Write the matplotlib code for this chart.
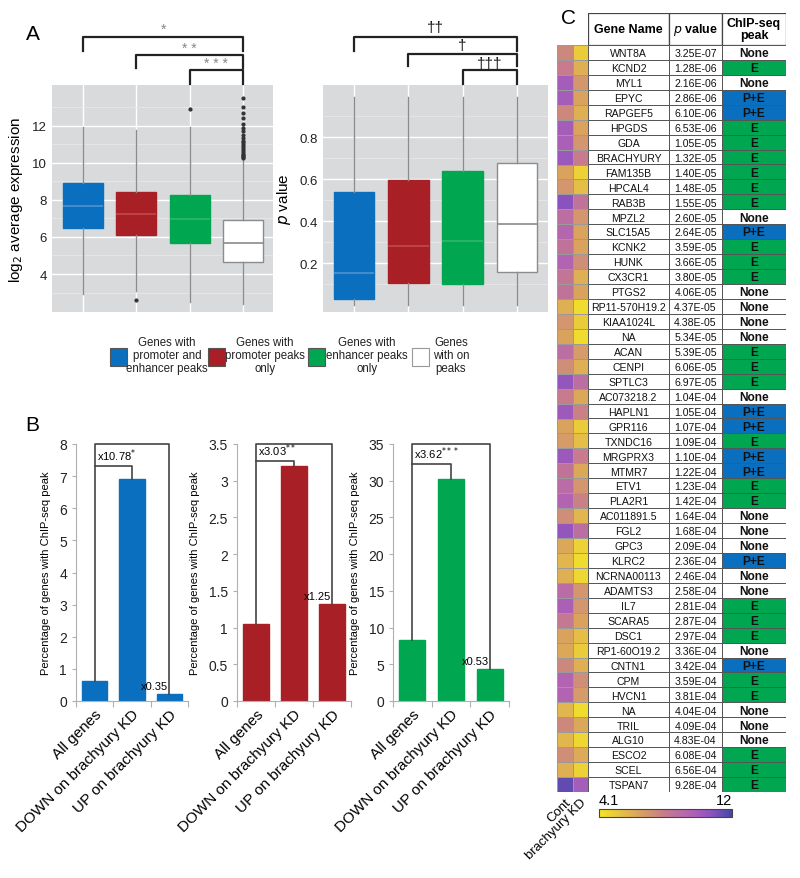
import numpy as np
import matplotlib
matplotlib.use("Agg")
import matplotlib.pyplot as plt
from matplotlib.patches import Rectangle
from matplotlib.colors import LinearSegmentedColormap

plt.rcParams['font.family'] = ['Liberation Sans', 'DejaVu Sans']

# ---------------- data ----------------
group_colors = ['#0a6fbe', '#a81f25', '#00a650', '#ffffff']
median_colors = ['#4f93d2', '#c04a4e', '#2fb86c', '#8a8a8a']
legend_labels = ['Genes with\npromoter and\nenhancer peaks', 'Genes with\npromoter peaks\nonly',
                 'Genes with\nenhancer peaks\nonly', 'Genes\nwith on\npeaks']

# Panel A left: log2 average expression box stats
expr_q1 = [6.49, 6.10, 5.68, 4.65]
expr_med = [7.67, 7.24, 6.95, 5.68]
expr_q3 = [8.92, 8.43, 8.27, 6.90]
expr_lo = [2.90, 3.10, 2.50, 2.40]
expr_hi = [11.95, 11.75, 11.95, 10.20]
expr_fliers = [[], [2.6], [12.9],
               [10.25, 10.3, 10.35, 10.4, 10.5, 10.6, 10.7, 10.8, 10.9, 11.0, 11.1, 11.2,
                11.35, 11.5, 11.7, 11.9, 12.1, 12.4, 12.7, 13.0, 13.5]]
# Panel A right: p value box stats
pv_q1 = [0.029, 0.105, 0.100, 0.157]
pv_med = [0.152, 0.281, 0.305, 0.386]
pv_q3 = [0.538, 0.595, 0.638, 0.676]
pv_lo = [0.0, 0.0, 0.0, 0.0]
pv_hi = [0.99, 0.99, 0.99, 0.99]

sig_expr = ['*', '* *', '* * *']
sig_pv = ['\u2020\u2020', '\u2020', '\u2020\u2020\u2020']

# Panel B
b_categories = ['All genes', 'DOWN on brachyury KD', 'UP on brachyury KD']
b_blue = [0.63, 6.9, 0.22]
b_red = [1.05, 3.2, 1.32]
b_green = [8.3, 30.3, 4.4]
b_ymax = [8, 3.5, 35]
b_yticks = [[0, 1, 2, 3, 4, 5, 6, 7, 8],
            [0, 0.5, 1, 1.5, 2, 2.5, 3, 3.5],
            [0, 5, 10, 15, 20, 25, 30, 35]]
b_yticklabels = [['0', '1', '2', '3', '4', '5', '6', '7', '8'],
                 ['0', '0.5', '1', '1.5', '2', '2.5', '3', '3.5'],
                 ['0', '5', '10', '15', '20', '25', '30', '35']]
b_fold_down = ['x10.78$^{*}$', 'x3.03$^{**}$', 'x3.62$^{***}$']
b_fold_up = ['x0.35', 'x1.25', 'x0.53']

# Panel C
genes = ['WNT8A', 'KCND2', 'MYL1', 'EPYC', 'RAPGEF5', 'HPGDS', 'GDA', 'BRACHYURY', 'FAM135B',
         'HPCAL4', 'RAB3B', 'MPZL2', 'SLC15A5', 'KCNK2', 'HUNK', 'CX3CR1', 'PTGS2',
         'RP11-570H19.2', 'KIAA1024L', 'NA', 'ACAN', 'CENPI', 'SPTLC3', 'AC073218.2', 'HAPLN1',
         'GPR116', 'TXNDC16', 'MRGPRX3', 'MTMR7', 'ETV1', 'PLA2R1', 'AC011891.5', 'FGL2', 'GPC3',
         'KLRC2', 'NCRNA00113', 'ADAMTS3', 'IL7', 'SCARA5', 'DSC1', 'RP1-60O19.2', 'CNTN1', 'CPM',
         'HVCN1', 'NA', 'TRIL', 'ALG10', 'ESCO2', 'SCEL', 'TSPAN7']
pvalues = ['3.25E-07', '1.28E-06', '2.16E-06', '2.86E-06', '6.10E-06', '6.53E-06', '1.05E-05',
           '1.32E-05', '1.40E-05', '1.48E-05', '1.55E-05', '2.60E-05', '2.64E-05', '3.59E-05',
           '3.66E-05', '3.80E-05', '4.06E-05', '4.37E-05', '4.38E-05', '5.34E-05', '5.39E-05',
           '6.06E-05', '6.97E-05', '1.04E-04', '1.05E-04', '1.07E-04', '1.09E-04', '1.10E-04',
           '1.22E-04', '1.23E-04', '1.42E-04', '1.64E-04', '1.68E-04', '2.09E-04', '2.36E-04',
           '2.46E-04', '2.58E-04', '2.81E-04', '2.87E-04', '2.97E-04', '3.36E-04', '3.42E-04',
           '3.59E-04', '3.81E-04', '4.04E-04', '4.09E-04', '4.83E-04', '6.08E-04', '6.56E-04',
           '9.28E-04']
peaks = ['None', 'E', 'None', 'P+E', 'P+E', 'E', 'E', 'E', 'E', 'E', 'E', 'None', 'P+E', 'E', 'E',
         'E', 'None', 'None', 'None', 'None', 'E', 'E', 'E', 'None', 'P+E', 'P+E', 'E', 'P+E',
         'P+E', 'E', 'E', 'None', 'None', 'None', 'P+E', 'None', 'None', 'E', 'E', 'E', 'None',
         'P+E', 'E', 'E', 'None', 'None', 'None', 'E', 'E', 'E']
expr_cont = [7.5, 8.0, 10.0, 10.0, 7.5, 10.0, 9.8, 10.3, 6.5, 7.0, 10.8, 8.8, 9.3, 8.5, 9.5, 8.3,
             8.5, 6.0, 7.0, 6.5, 8.8, 7.3, 10.5, 8.0, 10.2, 6.5, 6.8, 10.3, 8.5, 9.0, 9.5, 7.3,
             10.5, 6.3, 5.8, 6.0, 9.0, 9.8, 8.2, 6.5, 6.3, 7.5, 9.5, 9.5, 5.8, 7.5, 5.8, 7.3, 6.0,
             11.5]
expr_kd = [5.0, 6.0, 7.0, 6.5, 6.0, 6.5, 7.0, 8.0, 4.8, 5.5, 8.5, 7.0, 6.5, 6.5, 7.3, 6.0, 6.5,
           4.5, 5.0, 4.5, 6.8, 6.0, 8.8, 6.3, 7.8, 5.0, 5.5, 8.0, 6.3, 7.0, 7.8, 5.8, 8.8, 4.8,
           4.5, 4.6, 7.0, 7.0, 6.5, 5.5, 5.0, 6.0, 7.3, 6.8, 4.5, 6.3, 4.6, 6.2, 4.8, 10.0]
heat_cols = ['Cont', 'brachyury KD']
heat_range = [4.1, 12]
peak_colors = {'None': '#ffffff', 'E': '#00a650', 'P+E': '#0a6fbe'}

# ---------------- figure ----------------
W, H = 800, 879
fig = plt.figure(figsize=(W / 100, H / 100), dpi=100)


def ax_px(x0, y0, x1, y1):
    return fig.add_axes([x0 / W, 1 - y1 / H, (x1 - x0) / W, (y1 - y0) / H])


def style_gg(ax):
    ax.set_facecolor('#d9dadb')
    for s in ax.spines.values():
        s.set_visible(False)
    ax.tick_params(which='both', length=0, labelsize=9.5, colors='#222222')
    ax.grid(True, color='white', lw=1.0)
    ax.set_axisbelow(True)


def boxes(ax, q1, med, q3, lo, hi, fliers):
    stats = []
    for i in range(4):
        stats.append(dict(q1=q1[i], med=med[i], q3=q3[i], whislo=lo[i], whishi=hi[i],
                          fliers=fliers[i]))
    art = ax.bxp(stats, positions=[1, 2, 3, 4], widths=0.75, patch_artist=True, showcaps=False,
                 whiskerprops=dict(color='#8c8c8c', lw=1.0),
                 flierprops=dict(marker='o', markersize=2, markerfacecolor='#333333',
                                 markeredgecolor='#333333', lw=0))
    for i, b in enumerate(art['boxes']):
        b.set_facecolor(group_colors[i])
        b.set_edgecolor('#8c8c8c' if i == 3 else group_colors[i])
        b.set_linewidth(1.0)
        art['medians'][i].set_color(median_colors[i])
        art['medians'][i].set_linewidth(1.2)


def brackets(ax, x_pairs, ys, drops, labels, label_dy, lcolor, tcolor, fs):
    tr = ax.get_xaxis_transform()
    for (xa, xb), y, dr, lab, dy in zip(x_pairs, ys, drops, labels, label_dy):
        ax.plot([xa, xa, xb, xb], [y - dr, y, y, y - dr], color=lcolor, lw=1.6,
                transform=tr, clip_on=False, solid_joinstyle='round')
        ax.text((xa + xb) / 2, y + dy, lab, transform=tr, ha='center', va='center', color=tcolor,
                fontsize=fs)


# Panel A left
axA1 = ax_px(52, 86, 273, 313)
style_gg(axA1)
boxes(axA1, expr_q1, expr_med, expr_q3, expr_lo, expr_hi, expr_fliers)
axA1.set_xlim(0.42, 4.56)
axA1.set_ylim(1.95, 14.2)
axA1.set_yticks([4, 6, 8, 10, 12])
axA1.set_yticks([3, 5, 7, 9, 11, 13], minor=True)
axA1.grid(True, which='minor', axis='y', color='#e8e8e8', lw=0.6)
axA1.set_xticklabels([])
axA1.set_ylabel('log$_2$ average expression', fontsize=11, labelpad=5)
brackets(axA1, [(1, 4), (2, 4), (3, 4)], [1.211, 1.132, 1.066], [0.06, 0.055, 0.062],
         sig_expr, [0.036, 0.03, 0.032], '#222222', '#888888', 10)

# Panel A right
axA2 = ax_px(323, 86, 548, 313)
style_gg(axA2)
boxes(axA2, pv_q1, pv_med, pv_q3, pv_lo, pv_hi, [[], [], [], []])
axA2.set_xlim(0.43, 4.57)
axA2.set_ylim(-0.033, 1.048)
axA2.set_yticks([0.2, 0.4, 0.6, 0.8])
axA2.set_yticks([0.1, 0.3, 0.5, 0.7, 0.9], minor=True)
axA2.grid(True, which='minor', axis='y', color='#e8e8e8', lw=0.6)
axA2.set_xticklabels([])
axA2.set_ylabel('$\\it{p}$ value', fontsize=11, labelpad=5)
brackets(axA2, [(1, 4), (2, 4), (3, 4)], [1.211, 1.137, 1.066], [0.06, 0.055, 0.062],
         sig_pv, [0.045, 0.04, 0.032], '#222222', '#111111', 11)

# Legend for A
leg_box_x = [110, 208, 308, 412]
leg_text_x = [167, 265, 367, 451]
for i in range(4):
    fig.patches.append(Rectangle((leg_box_x[i] / W, 1 - 367 / H), 17 / W, 18 / H,
                                 transform=fig.transFigure, facecolor=group_colors[i],
                                 edgecolor='#555555' if i < 3 else '#999999', lw=0.8))
    fig.text(leg_text_x[i] / W, 1 - 356 / H, legend_labels[i], ha='center', va='center',
             fontsize=8.3, linespacing=1.1, color='#222222')

# Panel B
b_vals = [b_blue, b_red, b_green]
b_cols = [group_colors[0], group_colors[1], group_colors[2]]
b_pos = [(76, 188), (237, 351), (393, 509)]
inner_off = [0.4, 0.07, 2.0]
for k in range(3):
    ax = ax_px(b_pos[k][0], 445, b_pos[k][1], 702)
    x = np.arange(3)
    ax.bar(x, b_vals[k], width=0.67, color=b_cols[k], edgecolor=b_cols[k])
    ax.set_xlim(-0.5, 2.5)
    ax.set_ylim(0, b_ymax[k])
    ax.set_yticks(b_yticks[k])
    ax.set_yticklabels(b_yticklabels[k])
    for s in ['top', 'right']:
        ax.spines[s].set_visible(False)
    ax.spines['left'].set_color('#b0b0b0')
    ax.spines['bottom'].set_color('#b0b0b0')
    ax.tick_params(axis='y', length=3, color='#b0b0b0', labelsize=10, labelcolor='#222222')
    ax.set_xticks([-0.5, 0.5, 1.5, 2.5])
    ax.set_xticklabels([])
    ax.tick_params(axis='x', length=4, color='#b0b0b0')
    ax.set_xticks(x, minor=True)
    ax.set_xticklabels(b_categories, minor=True, rotation=45, ha='right',
                       rotation_mode='anchor', fontsize=11)
    ax.tick_params(axis='x', which='minor', length=0, pad=4)
    ax.set_ylabel('Percentage of genes with ChIP-seq peak', fontsize=8, labelpad=6)
    v = b_vals[k]
    top = b_ymax[k]
    yin = v[1] + inner_off[k]
    ax.plot([0, 0, 2, 2], [v[0], top, top, v[2]], color='#444444', lw=1.2, clip_on=False)
    ax.plot([0, 1, 1], [yin, yin, v[1]], color='#444444', lw=1.2, clip_on=False)
    ax.text(0.05, yin + top * 0.012, b_fold_down[k], ha='left', va='bottom', fontsize=8)
    ax.text(1.97, v[2] + top * 0.012, b_fold_up[k], ha='right', va='bottom', fontsize=8)

# Panel C: heatmap
cmap = LinearSegmentedColormap.from_list(
    'yp', [(0.0, '#f4e526'), (0.3, '#d9a35e'), (0.5, '#c67a8e'), (0.7, '#b062b6'),
           (0.85, '#8a52bf'), (1.0, '#4646a6')])
axH = ax_px(557, 46, 588, 793)
hm = np.column_stack([expr_cont, expr_kd])
mesh = axH.pcolormesh(hm, cmap=cmap, vmin=heat_range[0], vmax=heat_range[1],
                      edgecolors='#9a9a9a', linewidth=0.4)
axH.set_ylim(len(genes), 0)
axH.set_xlim(0, 2)
axH.set_yticks([])
axH.set_xticks([0.5, 1.5])
axH.set_xticklabels(heat_cols, rotation=45, ha='right', rotation_mode='anchor', fontsize=9.5)
axH.tick_params(axis='x', length=0, pad=3)
for s in axH.spines.values():
    s.set_visible(False)

# Panel C: table
n = len(genes)
hdr = 2.14
axT = ax_px(588, 14, 786, 793)
axT.set_xlim(0, 1)
axT.set_ylim(n, -hdr)
axT.axis('off')
col_edges = [0, 0.409, 0.677, 1.0]
headers = ['Gene Name', '$\\bf{\\it{p}}$ value', 'ChIP-seq\npeak']
for j in range(3):
    axT.add_patch(Rectangle((col_edges[j], -hdr), col_edges[j + 1] - col_edges[j], hdr,
                            facecolor='white', edgecolor='#444444', lw=0.9))
    axT.text((col_edges[j] + col_edges[j + 1]) / 2, -hdr / 2, headers[j], ha='center',
             va='center', fontsize=9, fontweight='bold', linespacing=1.1)
for i in range(n):
    cells = [genes[i], pvalues[i], peaks[i]]
    for j in range(3):
        fc = peak_colors[peaks[i]] if j == 2 else 'white'
        axT.add_patch(Rectangle((col_edges[j], i), col_edges[j + 1] - col_edges[j], 1,
                                facecolor=fc, edgecolor='#555555', lw=0.7))
        axT.text((col_edges[j] + col_edges[j + 1]) / 2, i + 0.55, cells[j], ha='center',
                 va='center', fontsize=8.6 if j == 2 else 7.6,
                 fontweight='bold' if j == 2 else 'normal', color='#111111')

# colorbar
cax = ax_px(599, 810, 732, 818)
cb = fig.colorbar(mesh, cax=cax, orientation='horizontal')
cb.set_ticks([])
cb.outline.set_edgecolor('#444444')
cb.outline.set_linewidth(0.8)
cax.text(0, 1.3, '4.1', transform=cax.transAxes, ha='left', va='bottom', fontsize=10.5)
cax.text(1, 1.3, '12', transform=cax.transAxes, ha='right', va='bottom', fontsize=10.5)

# panel labels
fig.text(33 / W, 1 - 35 / H, 'A', fontsize=15, ha='center', va='center')
fig.text(32 / W, 1 - 426 / H, 'B', fontsize=15, ha='center', va='center')
fig.text(568 / W, 1 - 18 / H, 'C', fontsize=15, ha='center', va='center')

fig.savefig('out.png', dpi=100)
